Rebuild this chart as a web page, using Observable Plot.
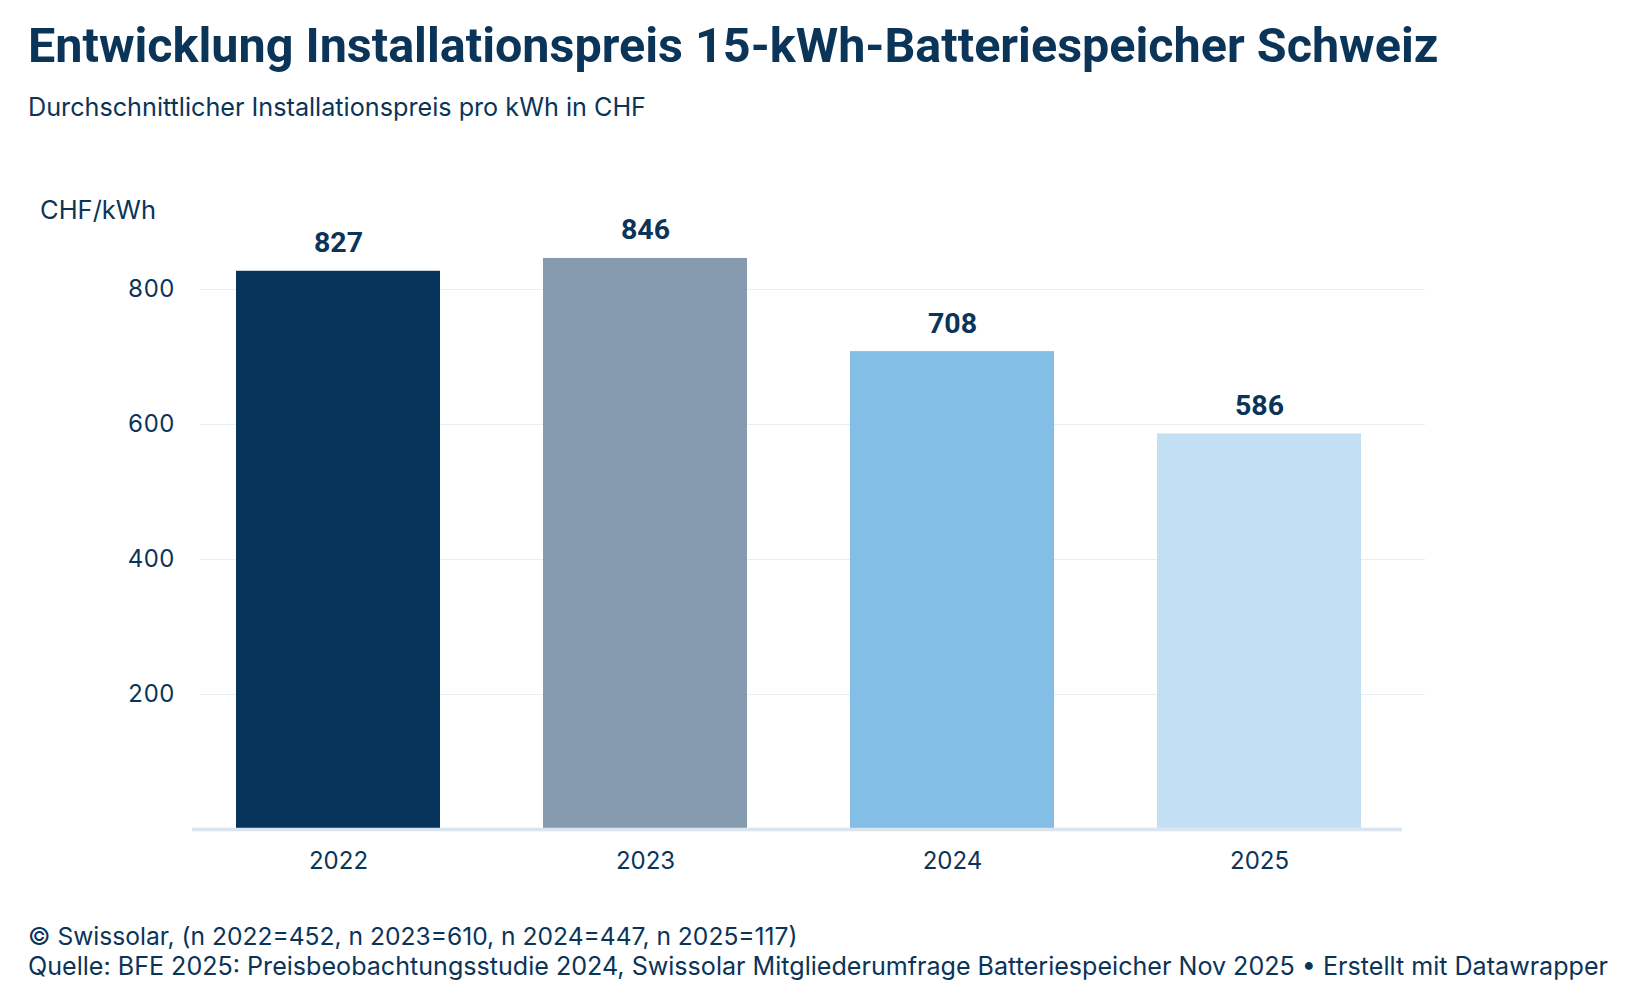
<!DOCTYPE html>
<html>
<head>
<meta charset="utf-8">
<script src="https://cdn.jsdelivr.net/npm/d3@7"></script>
<script src="https://cdn.jsdelivr.net/npm/@observablehq/plot@0.6"></script>
<style>
  html, body { margin: 0; padding: 0; background: #fff; }
  body { width: 1630px; height: 1002px; position: relative; font-family: Inter, Roboto, "Noto Sans", sans-serif; color: #0b3459; overflow: hidden; }
  .abs { position: absolute; white-space: nowrap; line-height: 1; }
  #title { left: 28px; top: 22px; font-family: Roboto, sans-serif; font-size: 48.5px; font-weight: 700; }
  #subtitle { left: 28px; top: 95px; font-size: 25.2px; }
  #unit { left: 40px; top: 197px; font-size: 25.5px; }
  #chart { position: absolute; left: 0; top: 170px; }
  #foot1 { left: 28px; top: 924px; font-size: 24.6px; }
  #foot2 { left: 28px; top: 954px; font-size: 25.1px; }
</style>
</head>
<body>
<div class="abs" id="title">Entwicklung Installationspreis 15-kWh-Batteriespeicher Schweiz</div>
<div class="abs" id="subtitle">Durchschnittlicher Installationspreis pro kWh in CHF</div>
<div class="abs" id="unit">CHF/kWh</div>
<div id="chart"></div>
<div class="abs" id="foot1">© Swissolar, (n 2022=452, n 2023=610, n 2024=447, n 2025=117)</div>
<div class="abs" id="foot2">Quelle: BFE 2025: Preisbeobachtungsstudie 2024, Swissolar Mitgliederumfrage Batteriespeicher Nov 2025 • Erstellt mit Datawrapper</div>
<script>
const years = ["2022", "2023", "2024", "2025"];
const prices = [827, 846, 708, 586];
const barColors = ["#07345b", "#869bb0", "#83bee6", "#c3dff3"];
const yTicks = [200, 400, 600, 800];

const data = years.map((y, i) => ({year: y, price: prices[i]}));

const chart = Plot.plot({
  width: 1630,
  height: 720,
  marginLeft: 192,
  marginRight: 205,
  marginTop: 119,
  marginBottom: 61,
  style: {fontFamily: "Inter, Roboto, 'Noto Sans', sans-serif", fontSize: "24px", color: "#0b3459", background: "transparent"},
  x: {domain: years, range: [192, 1406], paddingInner: 0.334, paddingOuter: 0.143, label: null},
  y: {domain: [0, 800], label: null},
  color: {domain: years, range: barColors},
  marks: [
    Plot.ruleY(yTicks, {stroke: "#e6eef5", strokeWidth: 1.2, insetLeft: 8}),
    Plot.barY(data, {x: "year", y: "price", fill: "year"}),
    Plot.ruleY([0], {stroke: "#dbe5ef", strokeWidth: 3.5, insetRight: 23}),
    Plot.text(data, {x: "year", y: "price", text: d => String(d.price), lineAnchor: "bottom", dy: -19, fontFamily: "Roboto, sans-serif", fontWeight: 700, fontSize: 28.5, fill: "#0b3459"}),
    Plot.axisY({ticks: yTicks, tickSize: 0, tickPadding: 18, label: null, fill: "#0b3459"}),
    Plot.axisX({tickSize: 0, tickPadding: 22, label: null, fill: "#0b3459"})
  ]
});
document.getElementById("chart").appendChild(chart);
</script>
</body>
</html>
